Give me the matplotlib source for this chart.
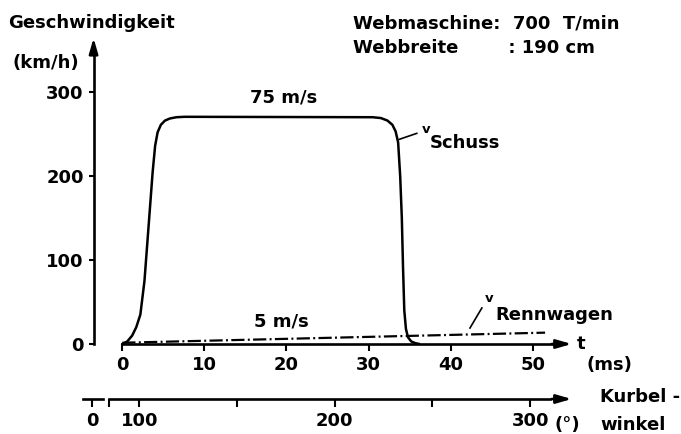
import matplotlib
matplotlib.use('Agg')
import matplotlib.pyplot as plt

plt.rcParams['font.family'] = ['DejaVu Sans']
plt.rcParams['font.weight'] = 'bold'
plt.rcParams['font.size'] = 13
plt.rcParams['lines.scale_dashes'] = False

t_schuss = [0, 0.6, 1.2, 1.7, 2.2, 2.7, 3.2, 3.7, 4.0, 4.3, 4.7, 5.2, 5.8, 6.6, 7.6,
            30.5, 31.5, 32.3, 32.9, 33.3, 33.6, 33.85, 34.05, 34.2, 34.35, 34.55,
            34.8, 35.2, 35.7, 36.2]
v_schuss = [0, 3, 10, 20, 35, 75, 140, 205, 236, 252, 261, 266, 268.5, 270, 270.5,
            270, 269, 266, 261, 253, 240, 200, 150, 90, 40, 18,
            8, 3, 1, 0]

# Rennwagen (strichpunktiert)
t_renn = [0, 51.5]
v_renn = [1.5, 13.5]

v_ticks = [0, 100, 200, 300]
t_ticks = [0, 10, 20, 30, 40, 50]
angle_ticks = [75.8, 84.7, 100, 150, 200, 250, 300]
angle_labels = ['0', '', '100', '', '200', '', '300']

# Kurbelwinkel: 700 T/min -> 4.2 Grad pro ms
deg_per_ms = 360 * 700 / 60000
angle_at_t0 = 91.3


def t2a(t):
    return angle_at_t0 + deg_per_ms * t


def a2t(a):
    return (a - angle_at_t0) / deg_per_ms


W, H = 681, 434


def fx(x):
    return x / W


def fy(y):
    return 1 - y / H


fig = plt.figure(figsize=(W / 100, H / 100), dpi=100)
ax = fig.add_axes([fx(70), fy(344), 530 / W, 308 / H])
ax.set_xlim(-6.37, 58.19)
ax.set_ylim(0, 366.7)

lw_axis = 1.9
arrow = dict(arrowstyle='-|>,head_length=0.45,head_width=0.13',
             mutation_scale=20, color='black', lw=lw_axis, shrinkA=0, shrinkB=0)

# Kurven
ax.plot(t_schuss, v_schuss, color='black', lw=1.8,
        solid_joinstyle='round', solid_capstyle='round')
ax.plot(t_renn, v_renn, color='black', lw=1.6,
        linestyle=(0, (9.5, 2.4, 1.4, 2.4)))

# Achsen
for side in ['top', 'right']:
    ax.spines[side].set_visible(False)
ax.spines['left'].set_position(('data', -3.5))
ax.spines['left'].set_bounds(0, 352)
ax.spines['bottom'].set_bounds(0, 52.5)
for side in ['left', 'bottom']:
    ax.spines[side].set_linewidth(lw_axis)
ax.annotate('', xy=(-3.5, 364.3), xytext=(-3.5, 350), arrowprops=arrow)
ax.annotate('', xy=(54.74, 0), xytext=(52.3, 0), arrowprops=arrow)

ax.set_yticks(v_ticks)
ax.set_xticks(t_ticks)
ax.tick_params(axis='y', direction='out', length=3.6, width=1.5, pad=3.5)
ax.tick_params(axis='x', direction='out', length=5, width=1.5, pad=3.5)

# Kurbelwinkel-Achse
kurbel_y = -0.1786
sec = ax.secondary_xaxis(kurbel_y, functions=(t2a, a2t))
sec.spines['bottom'].set_bounds(84.7, 310)
sec.spines['bottom'].set_linewidth(lw_axis)
sec.set_xticks(angle_ticks, labels=angle_labels)
sec.tick_params(direction='out', length=5.5, width=1.5, pad=3.5)
xtr = ax.get_xaxis_transform()
ax.annotate('', xy=(54.74, kurbel_y), xytext=(52.3, kurbel_y),
            xycoords=xtr, textcoords=xtr, arrowprops=arrow)
ax.plot([-4.79, -2.35], [kurbel_y, kurbel_y], transform=xtr,
        color='black', lw=lw_axis, clip_on=False)

# Beschriftungen
fig.text(fx(8), fy(28.3), 'Geschwindigkeit', va='baseline')
fig.text(fx(13), fy(62.5), '(km/h)', va='center')
fig.text(fx(353), fy(28.3), 'Webmaschine:  700  T/min', va='baseline')
fig.text(fx(353), fy(53.3), 'Webbreite        : 190 cm', va='baseline')

ax.text(19.7, 287, '75 m/s', ha='center', va='baseline')
ax.text(19.35, 20.6, '5 m/s', ha='center', va='baseline')

ax.text(36.5, 251, 'v', fontsize=9.5, va='baseline')
ax.text(37.5, 233, 'Schuss', va='baseline')
ax.plot([33.75, 35.87], [243.7, 250.8], color='black', lw=1.2)

ax.text(44.1, 50, 'v', fontsize=9.5, va='baseline')
ax.text(45.4, 28.6, 'Rennwagen', va='baseline')
ax.plot([42.35, 43.8], [19, 42.9], color='black', lw=1.2)

fig.text(fx(577), fy(344), 't', va='center')
fig.text(fx(586.7), fy(365.5), '(ms)', va='center')
fig.text(fx(600), fy(397.5), 'Kurbel -', va='center')
fig.text(fx(555), fy(424.5), '(°)', va='center')
fig.text(fx(600), fy(424.5), 'winkel', va='center')

fig.savefig('out.png', dpi=100)
